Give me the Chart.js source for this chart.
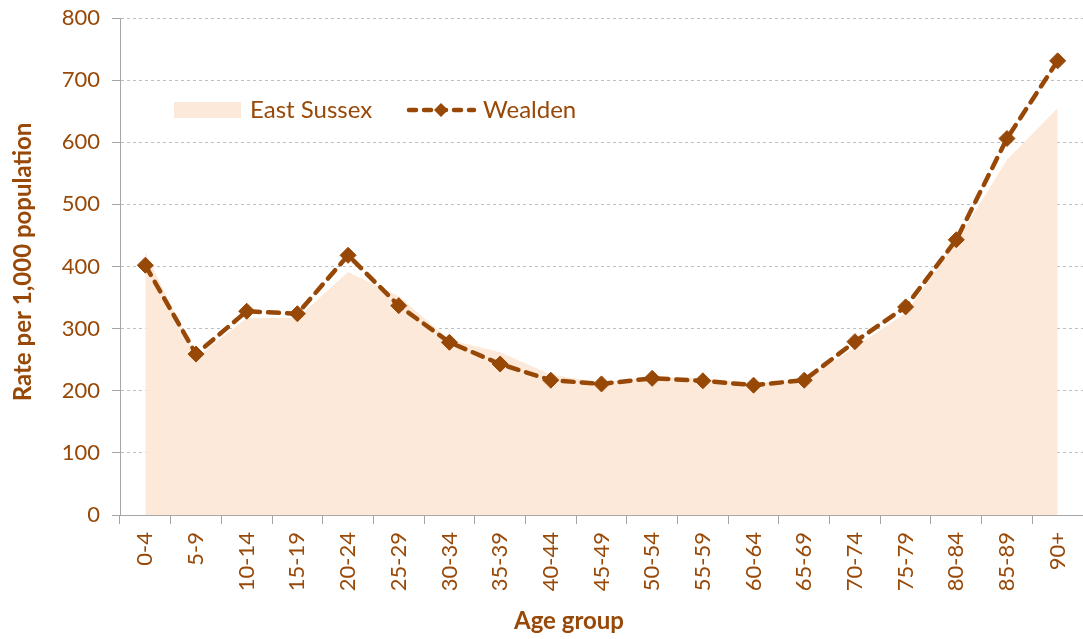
<!DOCTYPE html>
<html>
<head>
<meta charset="utf-8">
<script src="https://cdn.jsdelivr.net/npm/chart.js@4.4.1/dist/chart.umd.min.js"></script>
<style>
  html, body { margin: 0; padding: 0; background: #fff; }
  #wrap { width: 1083px; height: 639px; position: relative; }
</style>
</head>
<body>
<div id="wrap"><canvas id="chart"></canvas></div>
<script>
// Chart data
const ageGroups = ['0-4', '5-9', '10-14', '15-19', '20-24', '25-29', '30-34', '35-39', '40-44', '45-49',
    '50-54', '55-59', '60-64', '65-69', '70-74', '75-79', '80-84', '85-89', '90+'];
const eastSussex = [423, 253, 317, 317, 391, 352, 282, 262, 226, 213, 223, 220, 213, 216, 270, 325, 440, 572, 655];
const wealden = [402, 259, 328, 324, 418, 337, 278, 243, 217, 211, 220, 216, 209, 217, 279, 335, 443, 606, 731];
const yTicks = [0, 100, 200, 300, 400, 500, 600, 700, 800];

const brown = '#974706';
const textBrown = '#984807';
const fillColor = '#FDE9D9';
const fontFamily = 'Lato, "Open Sans", sans-serif';

// legend inside the plot area and the two axis titles
const extras = {
    id: 'extras',
    afterDraw(chart) {
        const ctx = chart.ctx;
        const y = 110;
        ctx.save();
        ctx.textBaseline = 'middle';
        // East Sussex swatch
        ctx.fillStyle = fillColor;
        ctx.fillRect(174, y - 8, 67, 16);
        ctx.fillStyle = textBrown;
        ctx.font = '24px ' + fontFamily;
        ctx.fillText('East Sussex', 250, y);
        // Wealden sample line
        ctx.strokeStyle = brown;
        ctx.lineWidth = 4.5;
        ctx.lineCap = 'round';
        ctx.setLineDash([7, 8]);
        ctx.beginPath();
        ctx.moveTo(409, y);
        ctx.lineTo(474, y);
        ctx.stroke();
        ctx.setLineDash([]);
        ctx.fillStyle = brown;
        ctx.beginPath();
        ctx.moveTo(441, y - 7);
        ctx.lineTo(448, y);
        ctx.lineTo(441, y + 7);
        ctx.lineTo(434, y);
        ctx.closePath();
        ctx.fill();
        ctx.fillStyle = textBrown;
        ctx.fillText('Wealden', 483, y);

        // axis titles
        ctx.font = 'bold 24px ' + fontFamily;
        ctx.textAlign = 'center';
        ctx.fillText('Age group', 569, 621);
        ctx.translate(23, 262);
        ctx.rotate(-Math.PI / 2);
        ctx.fillText('Rate per 1,000 population', 0, 0);
        ctx.restore();
    }
};

new Chart(document.getElementById('chart'), {
    type: 'line',
    data: {
        labels: ageGroups,
        datasets: [
            {
                label: 'Wealden',
                data: wealden,
                borderColor: brown,
                backgroundColor: brown,
                borderWidth: 4.5,
                borderDash: [11, 8],
                borderCapStyle: 'round',
                pointStyle: 'rectRot',
                pointRadius: 8,
                pointBackgroundColor: brown,
                pointBorderColor: brown,
                pointBorderWidth: 1,
                fill: false,
                tension: 0,
                clip: false,
                order: 1
            },
            {
                label: 'East Sussex',
                data: eastSussex,
                borderColor: fillColor,
                backgroundColor: fillColor,
                borderWidth: 0,
                pointRadius: 0,
                fill: 'origin',
                tension: 0,
                order: 2
            }
        ]
    },
    options: {
        responsive: true,
        maintainAspectRatio: false,
        animation: false,
        layout: { autoPadding: false, padding: { top: 18, right: -6, left: 0, bottom: 0 } },
        plugins: {
            legend: { display: false },
            tooltip: { enabled: false }
        },
        scales: {
            x: {
                offset: true,
                grid: {
                    display: true,
                    drawOnChartArea: false,
                    offset: true,
                    tickLength: 9,
                    color: '#A6A6A6'
                },
                border: { color: '#A6A6A6', width: 1 },
                ticks: {
                    color: textBrown,
                    font: { family: fontFamily, size: 22 },
                    minRotation: 90,
                    maxRotation: 90,
                    padding: 8,
                    autoSkip: false
                },
                afterFit(scale) {
                    scale.height = 124;
                    scale.paddingLeft = 0;
                    scale.paddingRight = 0;
                }
            },
            y: {
                min: 0,
                max: 800,
                afterBuildTicks(scale) { scale.ticks = yTicks.map(v => ({ value: v })); },
                grid: {
                    color: '#BFBFBF',
                    tickColor: '#A6A6A6',
                    tickLength: 8,
                    tickBorderDash: [],
                    drawTicks: true
                },
                border: { color: '#A6A6A6', width: 1, dash: [3, 3] },
                ticks: {
                    color: textBrown,
                    font: { family: fontFamily, size: 22 },
                    padding: 12
                },
                afterFit(scale) {
                    scale.width = 120;
                    scale.paddingTop = 0;
                    scale.paddingBottom = 0;
                }
            }
        }
    },
    plugins: [extras]
});
</script>
</body>
</html>
